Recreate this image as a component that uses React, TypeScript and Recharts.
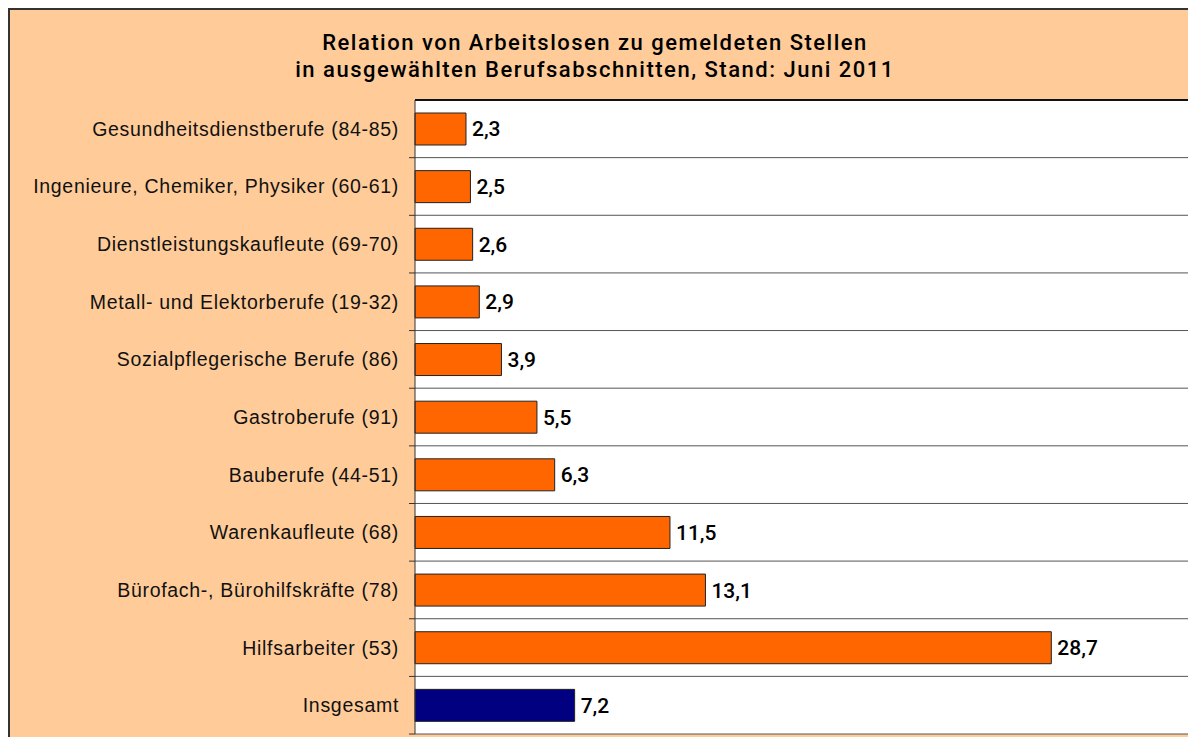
import { BarChart, Bar, XAxis, YAxis, CartesianGrid, LabelList, Cell } from 'recharts';

const categories = [
  'Gesundheitsdienstberufe (84-85)',
  'Ingenieure, Chemiker, Physiker (60-61)',
  'Dienstleistungskaufleute (69-70)',
  'Metall- und Elektorberufe (19-32)',
  'Sozialpflegerische Berufe (86)',
  'Gastroberufe (91)',
  'Bauberufe (44-51)',
  'Warenkaufleute (68)',
  'Bürofach-, Bürohilfskräfte (78)',
  'Hilfsarbeiter (53)',
  'Insgesamt',
];
const values = [2.3, 2.5, 2.6, 2.9, 3.9, 5.5, 6.3, 11.5, 13.1, 28.7, 7.2];
const xDomain = [0, 35];

const data = categories.map((name, i) => ({ name, value: values[i] }));

const FONT = '"Liberation Sans", Arial, sans-serif';
const FONT_MED = 'Roboto, "Liberation Sans", Arial, sans-serif';
const CHART_W = 1188;
const CHART_H = 740;
const MARGIN = { top: 91, right: 5, bottom: 14, left: 0 };
const AXIS_W = 407;
const PLOT_H = CHART_H - MARGIN.top - MARGIN.bottom;
const BAND = PLOT_H / categories.length;

function CategoryTick({ y, payload }: { x?: number; y?: number; payload?: { value: string } }) {
  const ax = AXIS_W;
  const yy = y ?? 0;
  return (
    <g>
      <text
        x={ax - 16}
        y={yy}
        textAnchor="end"
        dominantBaseline="central"
        fontSize={19.5}
        fontFamily={FONT}
        fill="#111"
        style={{ letterSpacing: '0.7px' }}
      >
        {payload?.value}
      </text>
      <line x1={ax - 6} x2={ax} y1={yy + BAND / 2} y2={yy + BAND / 2} stroke="#333" strokeWidth={1} />
    </g>
  );
}

export default function App() {
  return (
    <div style={{ width: 1188, height: 729, overflow: 'hidden' }}>
      <div
        style={{
          position: 'relative',
          width: 1200,
          height: 760,
          background: '#FFCC99',
          border: '2px solid #333',
          boxSizing: 'border-box',
          fontFamily: FONT,
        }}
      >
        <div
          style={{
            position: 'absolute',
            left: -2,
            top: 19,
            width: 1174,
            textAlign: 'center',
            fontFamily: FONT_MED,
            fontSize: 22,
            fontWeight: 500,
            lineHeight: '27px',
            letterSpacing: '1.5px',
            color: '#000',
          }}
        >
          Relation von Arbeitslosen zu gemeldeten Stellen
          <br />
          in ausgewählten Berufsabschnitten, Stand: Juni 2011
        </div>
        <div style={{ position: 'absolute', left: -2, top: -2 }}>
          <BarChart width={CHART_W} height={CHART_H} data={data} layout="vertical" margin={MARGIN} barSize={32}>
            <CartesianGrid
              fill="#fff"
              stroke="#555"
              strokeWidth={1}
              horizontalCoordinatesGenerator={({ offset }: any) =>
                categories.map((_, i) => offset.top + (i + 1) * (offset.height / categories.length))
              }
              verticalCoordinatesGenerator={({ offset }: any) => [offset.left + offset.width - 1]}
            />
            <XAxis type="number" domain={xDomain} hide xAxisId="bottom" />
            <XAxis
              type="number"
              domain={xDomain}
              xAxisId="top"
              orientation="top"
              height={1}
              tick={false}
              tickLine={false}
              axisLine={{ stroke: '#111', strokeWidth: 2 }}
            />
            <YAxis
              type="category"
              dataKey="name"
              width={AXIS_W}
              tick={<CategoryTick />}
              tickLine={false}
              axisLine={{ stroke: '#333', strokeWidth: 1 }}
              interval={0}
            />
            <Bar dataKey="value" xAxisId="bottom" stroke="#222" strokeWidth={1} isAnimationActive={false}>
              {data.map((d, i) => (
                <Cell key={d.name} fill={i === data.length - 1 ? '#000080' : '#FF6600'} />
              ))}
              <LabelList
                dataKey="value"
                position="right"
                offset={6}
                fontSize={21}
                fontWeight={500}
                fontFamily={FONT_MED}
                fill="#000"
                formatter={(v: any) => String(v).replace('.', ',')}
              />
            </Bar>
          </BarChart>
        </div>
      </div>
    </div>
  );
}
